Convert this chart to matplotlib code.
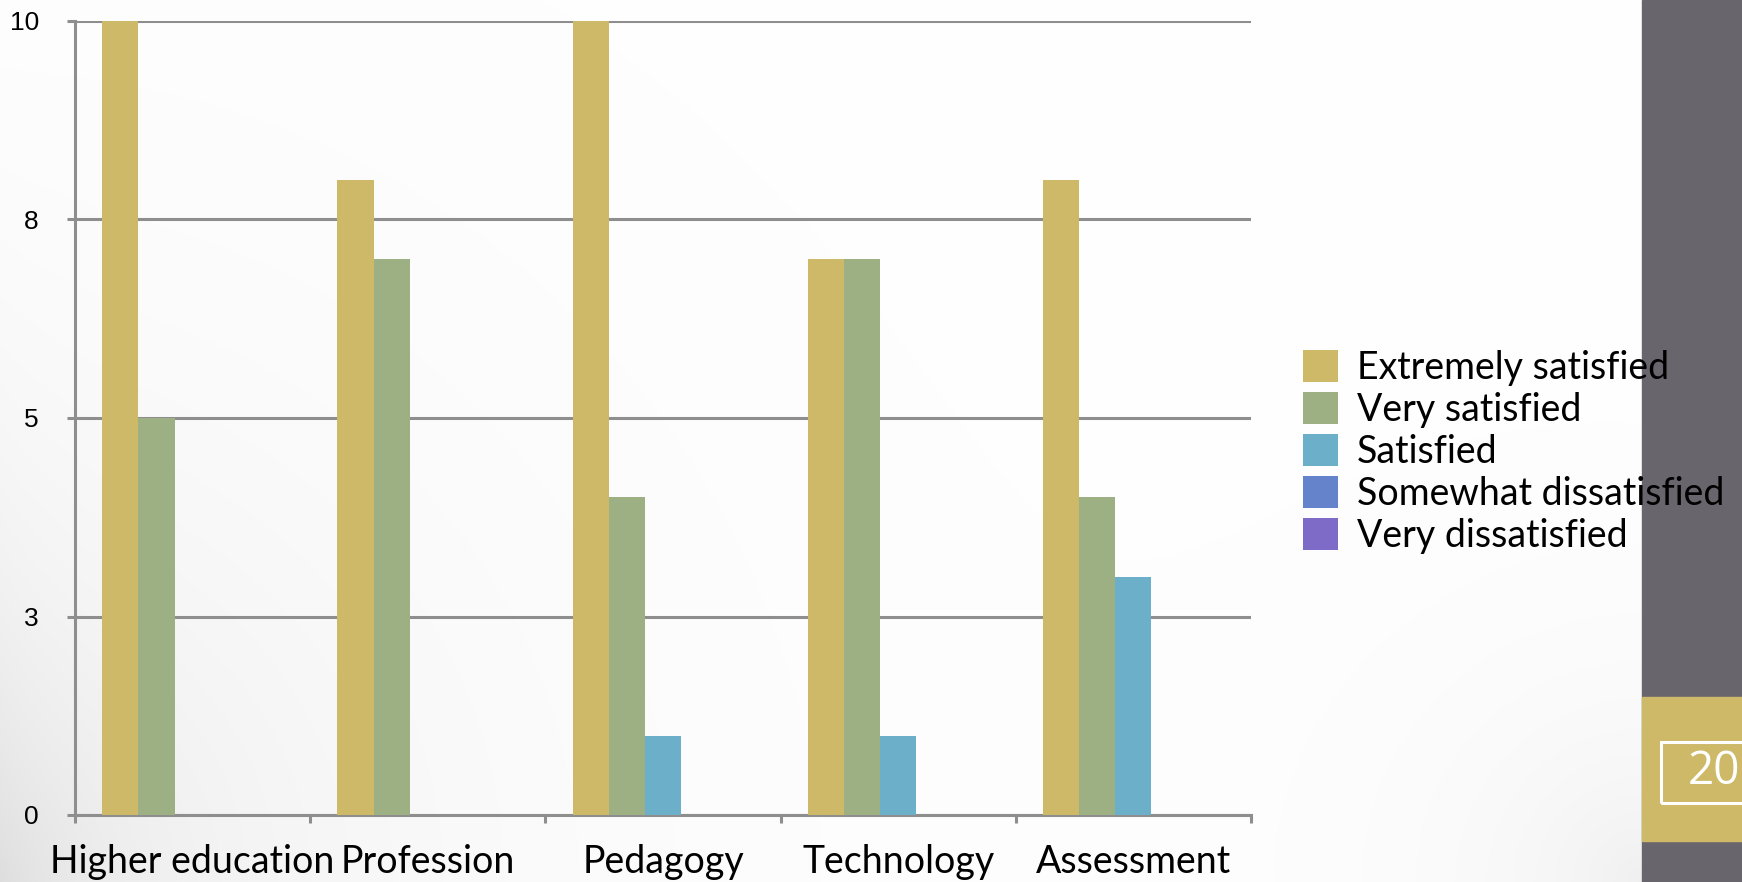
import matplotlib.pyplot as plt
import numpy as np
from matplotlib.patches import Rectangle, Patch

# chart data
categories = ["Higher education", "Profession", "Pedagogy", "Technology", "Assessment"]
series_names = ["Extremely satisfied", "Very satisfied", "Satisfied",
                "Somewhat dissatisfied", "Very dissatisfied"]
extremely = [10, 8, 10, 7, 8]
very = [5, 7, 4, 7, 4]
satisfied = [0, 0, 1, 1, 3]
somewhat_dis = [0, 0, 0, 0, 0]
very_dis = [0, 0, 0, 0, 0]
y_ticks = [0, 2.5, 5, 7.5, 10]
y_tick_labels = ["0", "3", "5", "8", "10"]

colors = ["#cdb967", "#9db083", "#6bb0c8", "#6583cb", "#7e6bc8"]
series = [extremely, very, satisfied, somewhat_dis, very_dis]

W, H = 1742, 882
fig = plt.figure(figsize=(W / 100, H / 100), dpi=100)
fig.patch.set_facecolor("white")

# soft grey shading in the lower corners of the slide
bg = fig.add_axes([0, 0, 1, 1], zorder=-10)
yy, xx = np.mgrid[0:H, 0:W]
d_bl = np.hypot(xx, H - yy)
d_br = np.hypot(xx - 1642, H - yy)
shade = 0.09 * np.exp(-d_bl / 330) + 0.06 * np.exp(-d_br / 160) + 0.04 * np.exp(-xx / 60) * (yy / H) ** 2
img = np.clip(1 - shade, 0, 1)
bg.imshow(np.dstack([img, img, img]), extent=[0, 1, 0, 1], aspect="auto")
bg.axis("off")

ax = fig.add_axes([75 / W, 1 - 815 / H, (1251 - 75) / W, (815 - 21) / H])
ax.patch.set_alpha(0)

x = np.arange(len(categories))
bw = 1 / 6.5
for i, (vals, name, c) in enumerate(zip(series, series_names, colors)):
    ax.bar(x + (i - 2) * bw, vals, width=bw, color=c, label=name, zorder=3)

ax.set_xlim(-0.5, len(categories) - 0.5)
ax.set_ylim(0, 10)

grid_c = "#8e8e8e"
ax.set_yticks(y_ticks)
ax.set_yticklabels(y_tick_labels, fontfamily="Liberation Sans", fontsize=19)
ax.yaxis.grid(True, color=grid_c, linewidth=2.2, zorder=1)
ax.set_axisbelow(True)

ax.set_xticks(np.arange(-0.5, len(categories), 1.0))
ax.set_xticklabels([])
ax.set_xticks(x, minor=True)
ax.set_xticklabels(categories, minor=True, fontfamily="Lato", fontsize=27)
ax.tick_params(axis="x", which="minor", length=0, pad=21)
ax.tick_params(axis="x", which="major", length=6, width=2.2, color=grid_c, direction="out")
ax.tick_params(axis="y", length=6, width=2.2, color=grid_c, pad=20)

for s in ["top", "right"]:
    ax.spines[s].set_visible(False)
for s in ["left", "bottom"]:
    ax.spines[s].set_color(grid_c)
    ax.spines[s].set_linewidth(2.2)

# slide decoration on the right
fig.patches.append(Rectangle((1642 / W, 0), 100 / W, 1, transform=fig.transFigure,
                             color="#68656c", zorder=0))
fig.patches.append(Rectangle((1642 / W, 1 - 841 / H), 100 / W, 144 / H, transform=fig.transFigure,
                             color="#cdb967", zorder=1))
fig.patches.append(Rectangle((1661 / W, 1 - 803 / H), 120 / W, 61 / H, transform=fig.transFigure,
                             fill=False, edgecolor="white", linewidth=2.2, zorder=2))
fig.text(1688 / W, 1 - 772 / H, "20", color="white", fontsize=33, fontfamily="Open Sans",
         va="center", ha="left")

handles = [Patch(facecolor=c, edgecolor="none") for c in colors]
leg = fig.legend(handles, series_names, loc="upper left",
                 bbox_to_anchor=(1303 / W, 1 - 350 / H), frameon=False,
                 prop={"family": "Lato", "size": 27}, borderpad=0, borderaxespad=0,
                 handlelength=0.93, handleheight=0.93, handletextpad=0.5,
                 labelspacing=0.16)
leg.set_zorder(5)

fig.savefig("out.png", dpi=100)
